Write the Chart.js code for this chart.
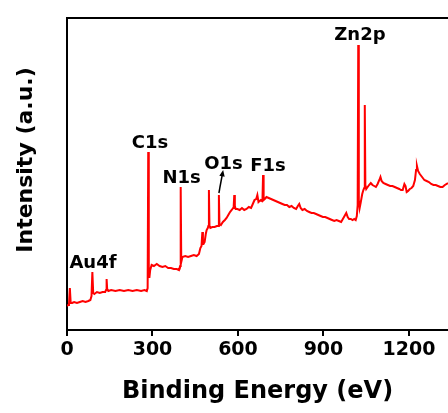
<!DOCTYPE html>
<html>
<head>
<meta charset="utf-8">
<script src="https://cdn.jsdelivr.net/npm/chart.js@4"></script>
<style>
  body { margin: 0; background: #fff; }
  #wrap { width: 448px; height: 413px; }
</style>
</head>
<body>
<div id="wrap"><canvas id="xpsChart"></canvas></div>
<script>
// binding energy (eV) and intensity (a.u.)
const energy = [
    0, 4, 7, 10, 13, 18, 25, 35, 45, 55, 65, 75, 82, 86, 89, 92, 96,
    105, 115, 125, 134, 137, 139, 141, 145, 155, 170, 185, 200, 215, 230, 245, 260, 272, 280, 283,
    285, 287, 289, 292, 297, 305, 315, 325, 335, 345, 355, 365, 375, 385, 393, 397, 399, 401, 405,
    415, 425, 435, 445, 455, 463, 468, 472, 475, 477, 479, 483, 487, 490, 494, 496, 498, 500, 503,
    510, 518, 526, 531, 533, 535, 540, 547, 554, 560, 566, 572, 578, 583, 585, 587, 589, 592, 598,
    606, 614, 622, 630, 638, 646, 652, 658, 664, 668, 672, 676, 680, 684, 686, 688, 690, 694, 700,
    708, 716, 724, 732, 740, 748, 756, 764, 772, 780, 788, 796, 804, 810, 815, 820, 826, 834, 842,
    850, 858, 866, 874, 882, 890, 898, 906, 914, 922, 930, 938, 946, 954, 962, 968, 974, 980, 985,
    990, 996, 1002, 1008, 1013, 1017, 1020, 1022, 1024, 1027, 1031, 1036, 1040, 1043, 1045, 1047, 1050, 1055, 1060,
    1066, 1072, 1078, 1084, 1090, 1096, 1100, 1104, 1110, 1118, 1126, 1134, 1142, 1150, 1158, 1166, 1172, 1178, 1184,
    1188, 1192, 1197, 1203, 1209, 1215, 1221, 1225, 1228, 1232, 1238, 1246, 1254, 1262, 1270, 1278, 1286, 1294, 1302,
    1310, 1318, 1326, 1337, 1350
];
const intensity = [
    24, 25, 26, 42, 27, 27, 28, 27, 28, 29, 28, 29, 30, 34, 58, 37, 36,
    38, 37, 38, 38, 40, 51, 41, 39, 40, 39, 40, 39, 40, 39, 40, 39, 40, 39, 42,
    178, 60, 52, 60, 65, 64, 66, 64, 63, 64, 62, 62, 61, 61, 60, 64, 143, 68, 73,
    74, 73, 74, 75, 74, 76, 82, 84, 98, 86, 86, 88, 96, 100, 102, 104, 140, 104, 102,
    103, 103, 104, 104, 135, 106, 105, 108, 110, 112, 115, 118, 120, 122, 124, 135, 124, 121, 121,
    120, 122, 120, 121, 123, 122, 126, 130, 131, 135, 128, 129, 130, 129, 131, 155, 130, 131, 133,
    132, 131, 130, 129, 128, 127, 126, 125, 125, 123, 124, 122, 121, 124, 126, 122, 120, 121, 119,
    118, 117, 117, 116, 115, 114, 113, 113, 112, 111, 110, 109, 110, 109, 108, 111, 114, 117, 113,
    111, 111, 110, 111, 110, 114, 125, 285, 130, 122, 128, 136, 140, 142, 225, 145, 141, 143, 145,
    147, 145, 144, 143, 146, 150, 153, 149, 147, 146, 145, 144, 144, 143, 142, 141, 140, 140, 146,
    144, 138, 139, 141, 142, 144, 150, 160, 164, 159, 156, 153, 150, 149, 148, 146, 145, 145, 144,
    143, 143, 145, 147, 146
];

// peak labels (text, energy, intensity of the text baseline)
const peakNames = ['Au4f', 'C1s', 'N1s', 'O1s', 'F1s', 'Zn2p'];
const peakEnergy = [91, 291, 402, 549, 705, 1028];
const peakLevel = [62, 182, 147, 161, 159, 290];

// arrow pointing at O1s: [energy, intensity] tail -> head
const arrowFrom = [533, 137];
const arrowTo = [548, 160];

const FONT = 'DejaVu Sans';
Chart.defaults.font.family = FONT;
Chart.defaults.color = '#000';

const labelPlugin = {
    id: 'peakLabels',
    afterDatasetsDraw(chart) {
        const {ctx, scales: {x, y}, chartArea} = chart;
        ctx.save();
        ctx.fillStyle = '#000';
        ctx.font = 'bold 18px "' + FONT + '"';
        ctx.textAlign = 'center';
        ctx.textBaseline = 'alphabetic';
        peakNames.forEach((name, i) => {
            ctx.fillText(name, x.getPixelForValue(peakEnergy[i]), y.getPixelForValue(peakLevel[i]));
        });

        // arrow
        const x0 = x.getPixelForValue(arrowFrom[0]), y0 = y.getPixelForValue(arrowFrom[1]);
        const x1 = x.getPixelForValue(arrowTo[0]), y1 = y.getPixelForValue(arrowTo[1]);
        const ang = Math.atan2(y1 - y0, x1 - x0);
        ctx.strokeStyle = '#000';
        ctx.lineWidth = 1.5;
        ctx.beginPath();
        ctx.moveTo(x0, y0);
        ctx.lineTo(x1 - 4 * Math.cos(ang), y1 - 4 * Math.sin(ang));
        ctx.stroke();
        ctx.beginPath();
        ctx.moveTo(x1, y1);
        ctx.lineTo(x1 - 7 * Math.cos(ang - 0.4), y1 - 7 * Math.sin(ang - 0.4));
        ctx.lineTo(x1 - 7 * Math.cos(ang + 0.4), y1 - 7 * Math.sin(ang + 0.4));
        ctx.closePath();
        ctx.fill();

        // y axis title
        ctx.translate(chartArea.left - 41, (chartArea.top + chartArea.bottom) / 2 - 14);
        ctx.rotate(-Math.PI / 2);
        ctx.font = 'bold 22px "' + FONT + '"';
        ctx.textBaseline = 'middle';
        ctx.fillText('Intensity (a.u.)', 0, 0);
        ctx.restore();
    }
};

new Chart(document.getElementById('xpsChart'), {
    type: 'line',
    data: {
        datasets: [{
            label: 'XPS survey',
            data: energy.map((e, i) => ({x: e, y: intensity[i]})),
            borderColor: '#ff0000',
            borderWidth: 2,
            pointRadius: 0,
            tension: 0,
            fill: false
        }]
    },
    options: {
        responsive: true,
        maintainAspectRatio: false,
        animation: false,
        layout: {padding: {top: 18, left: 0, right: 0, bottom: 0}},
        plugins: {
            legend: {display: false},
            tooltip: {enabled: false}
        },
        scales: {
            x: {
                type: 'linear',
                position: 'bottom',
                min: 0,
                max: 1337,
                afterFit: s => { s.height = 83; },
                border: {color: '#000', width: 2},
                grid: {drawOnChartArea: false, drawTicks: true, tickLength: 6, color: '#000', lineWidth: 2},
                ticks: {
                    stepSize: 300,
                    includeBounds: false,
                    maxRotation: 0,
                    padding: 3,
                    color: '#000',
                    font: {size: 19, weight: 'bold'},
                    callback: v => String(v)
                },
                title: {
                    display: true,
                    text: 'Binding Energy (eV)',
                    color: '#000',
                    font: {size: 24, weight: 'bold'},
                    padding: {top: 0, bottom: 7}
                }
            },
            xTop: {
                type: 'linear',
                position: 'top',
                min: 0,
                max: 1337,
                afterFit: s => { s.height = 0; },
                border: {color: '#000', width: 2},
                grid: {display: false, drawTicks: false},
                ticks: {display: false}
            },
            y: {
                min: 0,
                max: 312,
                afterFit: s => { s.width = 67; },
                border: {color: '#000', width: 2},
                grid: {display: false, drawTicks: false},
                ticks: {display: false}
            }
        }
    },
    plugins: [labelPlugin]
});
</script>
</body>
</html>
